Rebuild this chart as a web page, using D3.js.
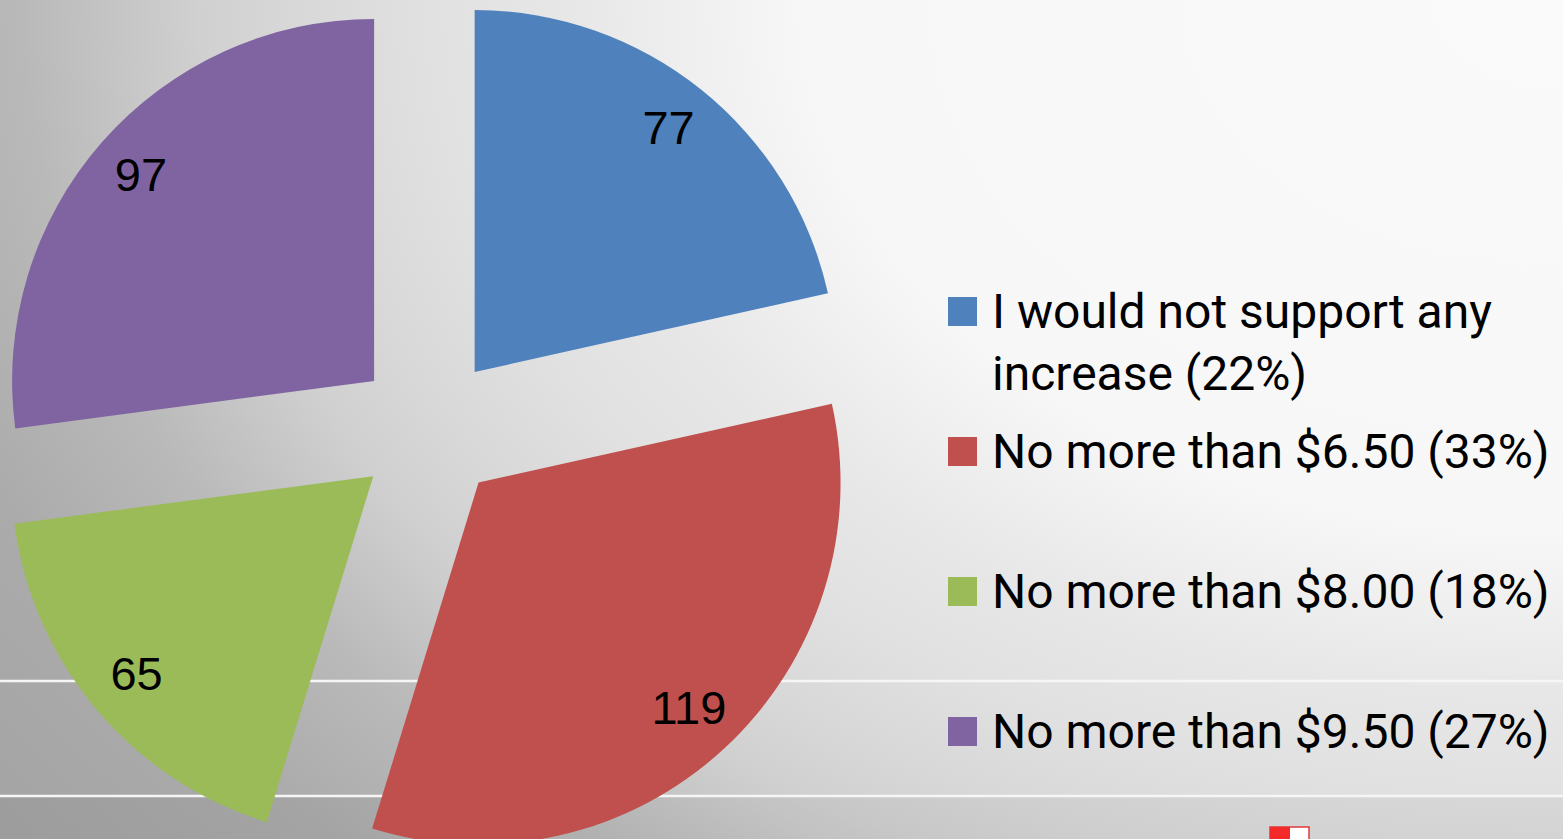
<!DOCTYPE html>
<html>
<head>
<meta charset="utf-8">
<script src="https://cdn.jsdelivr.net/npm/d3@7"></script>
<style>
  html, body { margin: 0; padding: 0; overflow: hidden; }
  svg { display: block; }
</style>
</head>
<body>
<div class="chart"></div>
<script>
const categories = [
	"I would not support any increase",
	"No more than $6.50",
	"No more than $8.00",
	"No more than $9.50"
];
const values = [77, 119, 65, 97];
const colors = ["#4f81bd", "#c0504d", "#9bbb59", "#8064a2"];

var w = 1563,
	h = 839,
	cx = 429,
	cy = 429,
	radius = 362,
	explode = 73,
	labelRadius = 310;

const total = d3.sum(values);

const svg = d3.select(".chart").append("svg").attr("width", w).attr("height", h);

// background: light in the top right, grey towards bottom left
const defs = svg.append("defs");
const bg = defs
	.append("radialGradient")
	.attr("id", "bg")
	.attr("gradientUnits", "userSpaceOnUse")
	.attr("gradientTransform", "translate(1563,0) scale(1,0.7)")
	.attr("cx", 0)
	.attr("cy", 0)
	.attr("r", 1950);
[
	[0, "#fafafa"],
	[0.39, "#f7f7f7"],
	[0.51, "#e7e7e7"],
	[0.58, "#e1e1e1"],
	[0.65, "#d8d8d8"],
	[0.7, "#d0d0d0"],
	[0.79, "#b9b9b9"],
	[0.88, "#ababab"],
	[1, "#a4a4a4"]
].forEach((s) => bg.append("stop").attr("offset", s[0]).attr("stop-color", s[1]));

svg.append("rect").attr("width", w).attr("height", h).attr("fill", "url(#bg)");
svg.append("rect").attr("y", 797).attr("width", w).attr("height", h - 797).attr("fill", "#000").attr("opacity", 0.04);
[681, 796].forEach((y) =>
	svg.append("line").attr("x1", 0).attr("x2", w).attr("y1", y).attr("y2", y)
		.attr("stroke", "#f6f6f6").attr("stroke-width", 2.5)
);

// small icon at the bottom
svg.append("rect").attr("x", 1270).attr("y", 827).attr("width", 39).attr("height", 16)
	.attr("fill", "#ffffff").attr("stroke", "#e03a3a").attr("stroke-width", 1.5);
svg.append("rect").attr("x", 1270).attr("y", 827).attr("width", 20).attr("height", 16).attr("fill", "#f22a2a");

// pie
const pie = d3.pie().sort(null).value((d) => d);
const arcs = pie(values);
const arc = d3.arc().innerRadius(0).outerRadius(radius);
const labelArc = d3.arc().innerRadius(labelRadius).outerRadius(labelRadius);

const slices = svg
	.append("g")
	.attr("transform", "translate(" + cx + "," + cy + ")")
	.selectAll("g")
	.data(arcs)
	.enter()
	.append("g")
	.attr("transform", function (d) {
		var mid = (d.startAngle + d.endAngle) / 2;
		return "translate(" + Math.sin(mid) * explode + "," + -Math.cos(mid) * explode + ")";
	});

slices
	.append("path")
	.attr("d", arc)
	.attr("fill", (d, i) => colors[i]);

slices
	.append("text")
	.attr("transform", (d) => "translate(" + labelArc.centroid(d) + ")")
	.attr("text-anchor", "middle")
	.attr("dy", "0.3em")
	.style("font-family", "'Liberation Sans', Arial, sans-serif")
	.style("font-size", "47px")
	.attr("fill", "#000")
	.text((d) => d.data);

// legend
const legend = svg
	.append("g")
	.selectAll("g")
	.data(categories)
	.enter()
	.append("g")
	.attr("transform", (d, i) => "translate(948," + (311 + i * 140) + ")");

legend
	.append("rect")
	.attr("y", -14)
	.attr("width", 29)
	.attr("height", 29)
	.attr("fill", (d, i) => colors[i]);

legend.each(function (d, i) {
	var label = d + " (" + Math.round((values[i] / total) * 100) + "%)";
	var words = label.split(" ");
	var text = d3
		.select(this)
		.append("text")
		.attr("x", 44)
		.attr("y", 17)
		.style("font-family", "Roboto, sans-serif")
		.style("font-size", "48px")
		.attr("fill", "#000");
	var line = [],
		tspan = text.append("tspan").attr("x", 44).attr("dy", 0);
	words.forEach(function (word) {
		line.push(word);
		tspan.text(line.join(" "));
		if (tspan.node().getComputedTextLength() > 570 && line.length > 1) {
			line.pop();
			tspan.text(line.join(" "));
			line = [word];
			tspan = text.append("tspan").attr("x", 44).attr("dy", 62).text(word);
		}
	});
});
</script>
</body>
</html>
